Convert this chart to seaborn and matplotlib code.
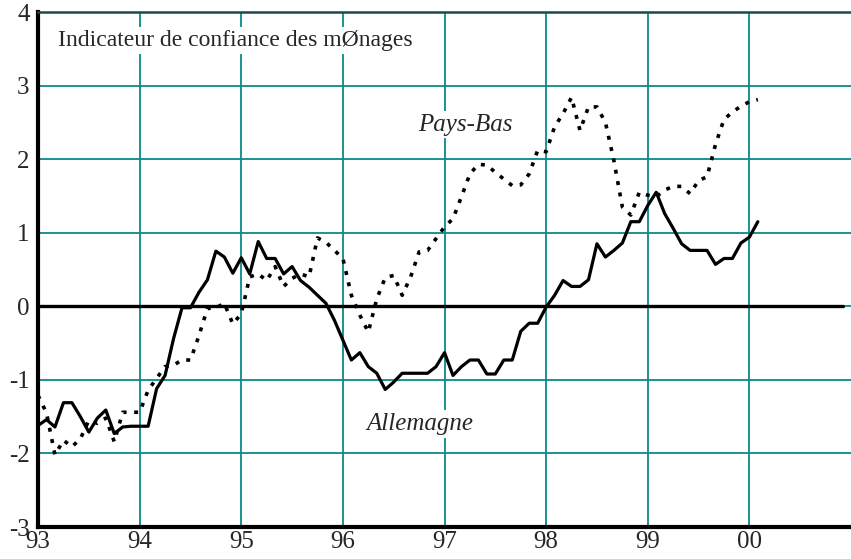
import numpy as np
import pandas as pd
import matplotlib
matplotlib.use("Agg")
import matplotlib.pyplot as plt
import seaborn as sns

# monthly values, Jan 1993 -> Feb 2000
allemagne = [-1.62, -1.54, -1.64, -1.31, -1.31, -1.50, -1.71, -1.52, -1.41, -1.73,
             -1.64, -1.63, -1.63, -1.63, -1.12, -0.94, -0.44, -0.02, -0.02, 0.19,
             0.36, 0.75, 0.67, 0.45, 0.66, 0.44, 0.88, 0.65, 0.65, 0.44,
             0.54, 0.35, 0.26, 0.15, 0.04, -0.19, -0.46, -0.73, -0.63, -0.82,
             -0.91, -1.13, -1.03, -0.91, -0.91, -0.91, -0.91, -0.82, -0.63, -0.94,
             -0.82, -0.73, -0.73, -0.92, -0.92, -0.73, -0.73, -0.34, -0.23, -0.23,
             -0.01, 0.15, 0.35, 0.27, 0.27, 0.36, 0.85, 0.67, 0.76, 0.86,
             1.15, 1.15, 1.37, 1.55, 1.26, 1.06, 0.85, 0.76, 0.76, 0.76,
             0.57, 0.65, 0.65, 0.86, 0.94, 1.15]
pays_bas = [-1.21, -1.45, -2.02, -1.82, -1.91, -1.80, -1.55, -1.59, -1.52, -1.84,
            -1.44, -1.44, -1.44, -1.14, -0.98, -0.82, -0.80, -0.73, -0.73, -0.40,
            -0.03, -0.02, 0.04, -0.24, -0.10, 0.40, 0.44, 0.35, 0.54, 0.27,
            0.38, 0.44, 0.40, 0.93, 0.87, 0.76, 0.65, 0.15, -0.12, -0.35,
            0.10, 0.39, 0.42, 0.15, 0.40, 0.74, 0.76, 0.92, 1.08, 1.19,
            1.49, 1.80, 1.93, 1.92, 1.82, 1.73, 1.64, 1.65, 1.80, 2.12,
            2.10, 2.44, 2.62, 2.84, 2.39, 2.71, 2.71, 2.50, 1.98, 1.35,
            1.24, 1.55, 1.51, 1.49, 1.58, 1.63, 1.63, 1.53, 1.71, 1.76,
            2.20, 2.54, 2.64, 2.72, 2.78, 2.81]
annees = [93, 94, 95, 96, 97, 98, 99, 100]
annee_labels = ["93", "94", "95", "96", "97", "98", "99", "00"]
y_ticks = [-3, -2, -1, 0, 1, 2, 3, 4]

t = 93 + np.arange(len(allemagne)) / 12.0
df = pd.DataFrame({"t": t, "Allemagne": allemagne, "Pays-Bas": pays_bas})

sns.set_style("white")
plt.rcParams["font.family"] = ["Liberation Serif", "DejaVu Serif"]
plt.rcParams["axes.unicode_minus"] = False

fig = plt.figure(figsize=(8.51, 5.59), dpi=100)
ax = fig.add_axes([0.0447, 0.0572, 0.9553, 0.9213])

teal = "#0a8a8a"
for x in annees:
    ax.axvline(x, color=teal, lw=1.3, zorder=0)
for y in y_ticks:
    ax.axhline(y, color=teal, lw=1.3, zorder=0)
ax.axhline(0, xmin=0, xmax=0.99, color="black", lw=2.4, zorder=1)

sns.lineplot(data=df, x="t", y="Pays-Bas", ax=ax, color="black", lw=2.6,
             linestyle=(0, (1.1, 2.1)), zorder=3)
sns.lineplot(data=df, x="t", y="Allemagne", ax=ax, color="black", lw=2.3, zorder=4)

ax.set_xlim(93, 101)
ax.set_ylim(-3, 4)
ax.set_xticks(annees)
ax.set_xticklabels(annee_labels)
ax.set_yticks(y_ticks)
ax.set_xlabel("")
ax.set_ylabel("")
ax.tick_params(axis="x", length=0, labelsize=18, pad=3)
ax.tick_params(axis="y", direction="in", length=6, width=1.5, labelsize=18, pad=6)

for s in ["left", "bottom"]:
    ax.spines[s].set_linewidth(3)
    ax.spines[s].set_color("black")
ax.spines["top"].set_linewidth(1.8)
ax.spines["top"].set_color("#1a4a4a")
ax.spines["right"].set_visible(False)

box = dict(facecolor="white", edgecolor="none", pad=2)
ax.text(93.2, 3.61, "Indicateur de confiance des mØnages", fontsize=17,
        va="center", ha="left", bbox=box, zorder=5)
ax.text(96.74, 2.47, "Pays-Bas", fontsize=18, style="italic",
        va="center", ha="left", bbox=box, zorder=5)
ax.text(96.23, -1.60, "Allemagne", fontsize=18, style="italic",
        va="center", ha="left", bbox=box, zorder=5)

fig.savefig("out.png", dpi=100)
